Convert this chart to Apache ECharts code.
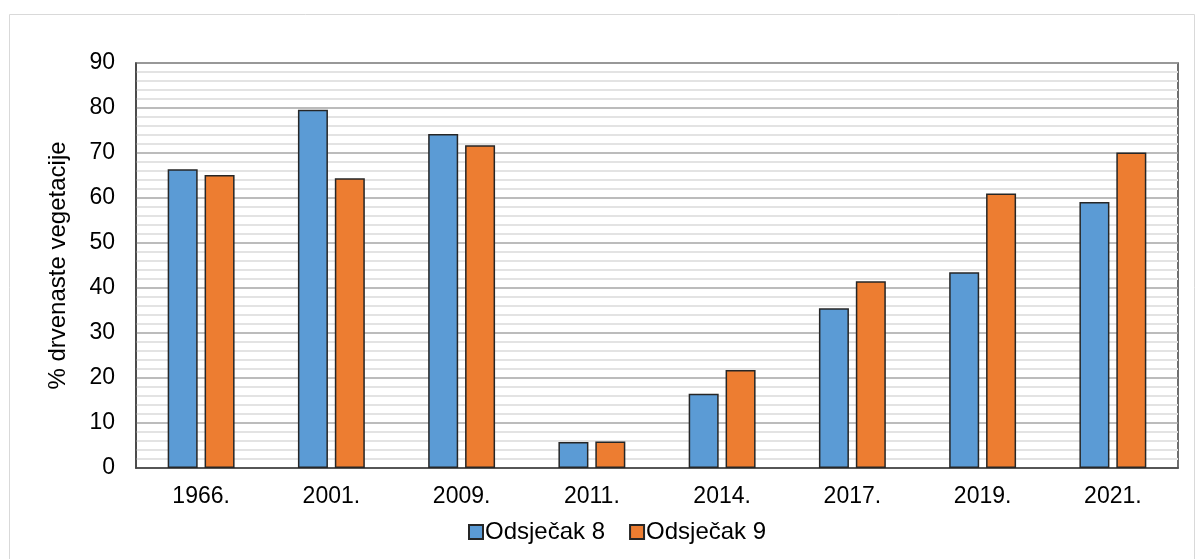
<!DOCTYPE html>
<html><head><meta charset="utf-8">
<script src="https://cdn.jsdelivr.net/npm/echarts@6/dist/echarts.min.js"></script>
<style>html,body{margin:0;padding:0;background:#fff;}#c{width:1202px;height:559px;}</style>
</head><body><div id="c"></div>
<script>
const categories = ['1966.', '2001.', '2009.', '2011.', '2014.', '2017.', '2019.', '2021.'];
const odsjecak8 = [66.4, 79.6, 74.2, 5.8, 16.5, 35.5, 43.5, 59.1];
const odsjecak9 = [65.1, 64.4, 71.7, 5.9, 21.8, 41.5, 61.0, 70.1];
const seriesNames = ['Odsječak 8', 'Odsječak 9'];
const yAxisName = '% drvenaste vegetacije';

const chart = echarts.init(document.getElementById('c'));
const font = 'Liberation Sans, Arial, sans-serif';
const fs = 23;
chart.setOption({
  animation: false,
  graphic: [{type:'rect', shape:{x:9.5, y:14.5, width:1185, height:560}, style:{fill:'none', stroke:'#d9d9d9', lineWidth:1}, silent:true}],
  grid: {left:136, right:24, top:63, bottom:91, show:true, borderColor:'#404040', borderWidth:1.5, backgroundColor:'transparent'},
  legend: {
    bottom: 10, left: 463, itemWidth: 14, itemHeight: 14, itemGap: 24,
    textStyle: {fontFamily: font, fontSize: 24, color: '#000', padding:[0,0,0,-3]},
    icon: 'rect',
    data: seriesNames
  },
  xAxis: {
    type: 'category', data: categories,
    axisLine: {show:true, lineStyle:{color:'#404040', width:1.5}},
    axisTick: {show:false},
    axisLabel: {fontFamily: font, fontSize: fs, color:'#000', margin: 17},
    splitLine: {show:false}
  },
  yAxis: {
    type: 'value', min: 0, max: 90, interval: 10,
    name: yAxisName, nameLocation: 'middle', nameGap: 66, nameRotate: 90,
    nameTextStyle: {fontFamily: font, fontSize: 24, color:'#000'},
    axisLine: {show:true, lineStyle:{color:'#404040', width:1.5}},
    axisTick: {show:false},
    axisLabel: {fontFamily: font, fontSize: fs, color:'#000', margin: 21},
    splitLine: {show:true, lineStyle:{color:'#a6a6a6', width:1.5}},
    minorTick: {show:false, splitNumber:5},
    minorSplitLine: {show:true, lineStyle:{color:'#e3e3e3', width:2}}
  },
  series: [
    {name: seriesNames[0], type:'bar', data: odsjecak8, barWidth: 30, barGap: '23%',
     itemStyle:{color:'#5b9bd5', borderColor:'#262626', borderWidth:1.5}},
    {name: seriesNames[1], type:'bar', data: odsjecak9, barWidth: 30, barGap: '23%',
     itemStyle:{color:'#ed7d31', borderColor:'#262626', borderWidth:1.5}}
  ]
});
</script></body></html>
